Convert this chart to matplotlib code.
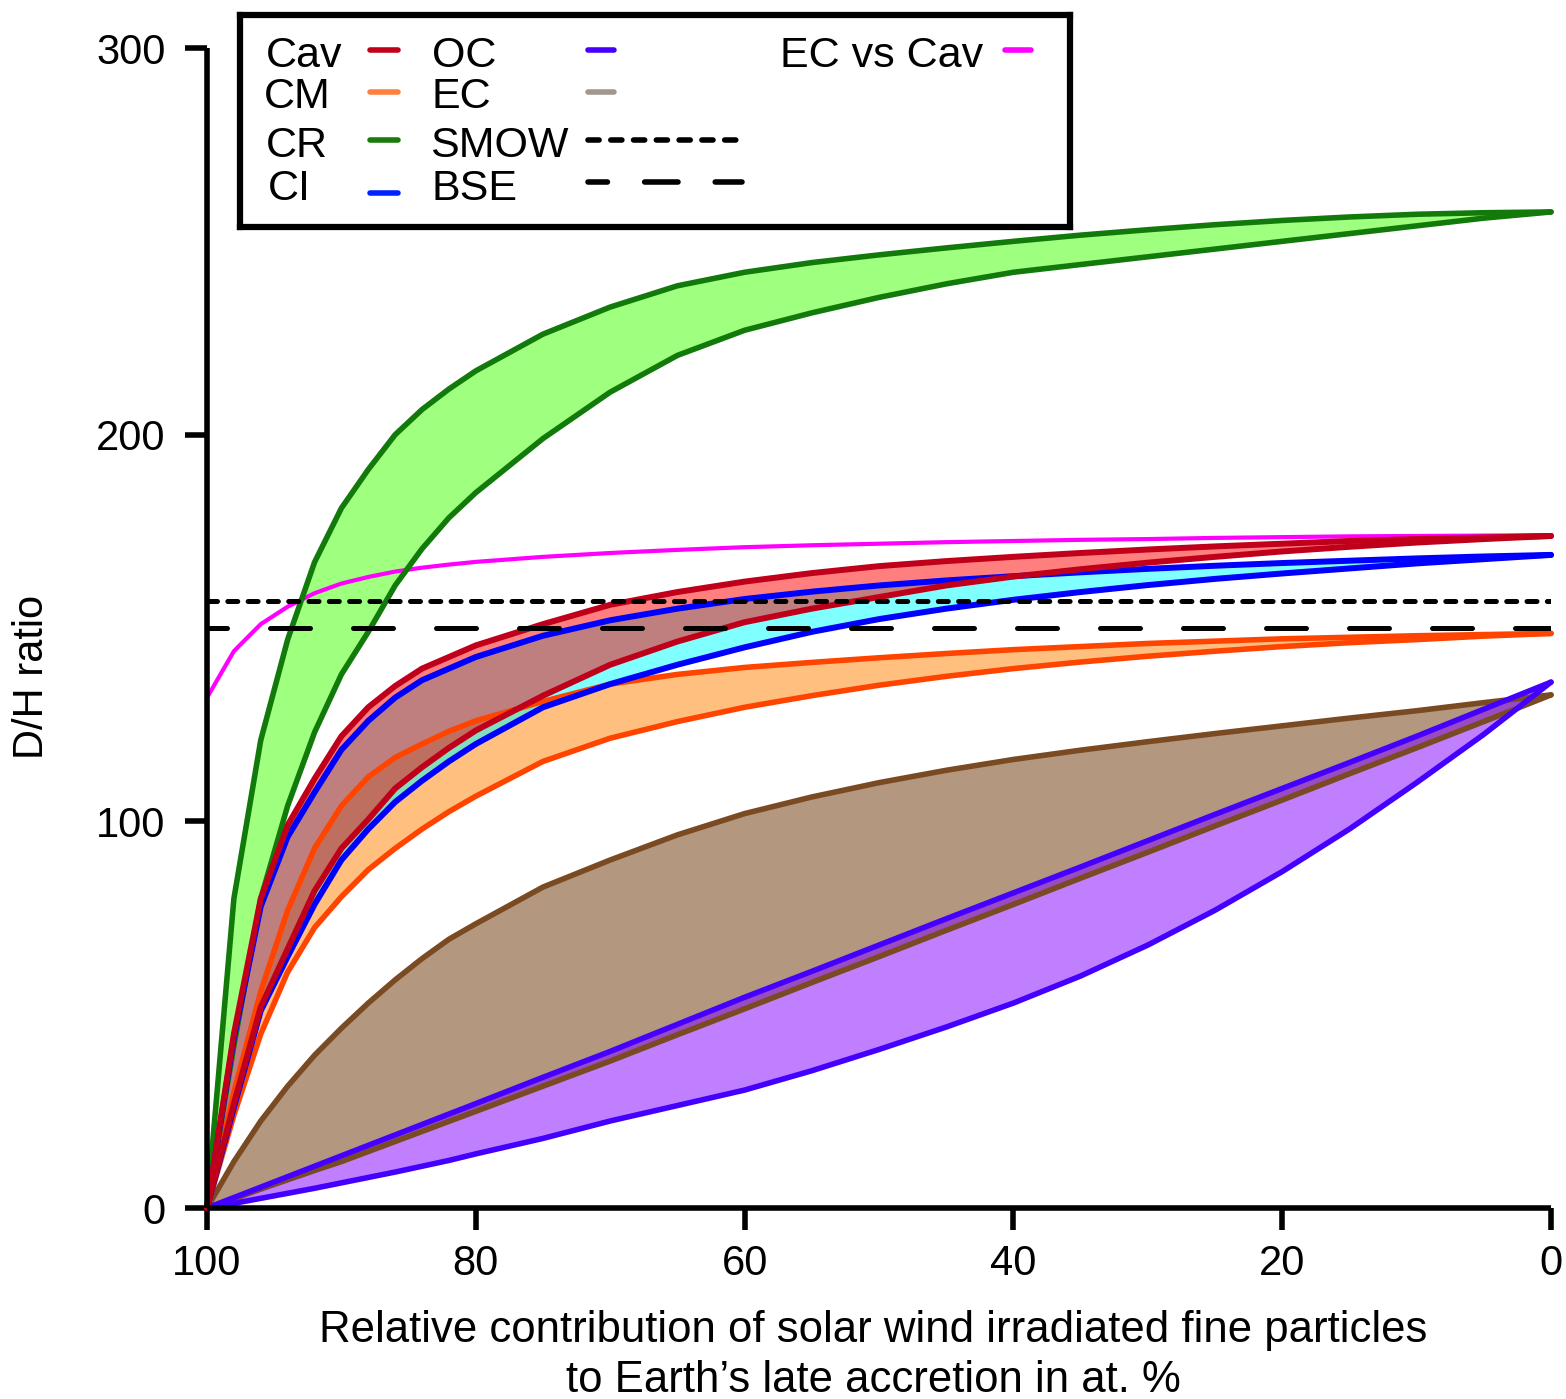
import matplotlib.pyplot as plt

plt.rcParams['font.family'] = ['Liberation Sans', 'DejaVu Sans']

# x axis: % solar wind irradiated fine particles (axis runs 100 -> 0)
x_pct = [100, 98, 96, 94, 92, 90, 88, 86, 84, 82, 80, 75, 70, 65,
         60, 55, 50, 45, 40, 35, 30, 25, 20, 15, 10, 5, 0]

cr_hi = [0, 80, 121, 147, 167, 181, 191, 200, 206.5, 211.8, 216.5, 226, 233, 238.5,
         242, 244.5, 246.5, 248.3, 250, 251.6, 253, 254.3, 255.4, 256.3, 257, 257.4, 257.6]
cr_lo = [0, 42, 80, 104, 123, 138, 149, 161, 170.5, 178.5, 185, 199, 211, 220.5,
         227, 231.5, 235.5, 239, 242, 244, 246, 248, 250, 252, 254, 256, 257.6]

cav_hi = [0, 45, 80, 99, 111, 122, 129.5, 135, 139.5, 142.5, 145.5, 151, 156, 159.3,
          162, 164.2, 166, 167.3, 168.4, 169.4, 170.3, 171.1, 171.8, 172.5, 173, 173.4, 173.8]
cav_lo = [0, 27, 52, 67, 82, 93, 100.5, 108.5, 114, 119, 123.5, 132.5, 140.5, 146.5,
          151.5, 155, 158, 161, 163.3, 165.2, 166.9, 168.4, 169.8, 171, 172.1, 173, 173.8]

ci_hi = [0, 44, 78, 96, 107.5, 118.5, 126, 132, 136.5, 139.5, 142.5, 148, 152, 155,
         157.5, 159.4, 161, 162.3, 163.4, 164.4, 165.3, 166.1, 166.8, 167.4, 168, 168.5, 168.9]
ci_lo = [0, 26, 51, 65, 78.5, 90, 98, 105, 110.5, 115.5, 120, 129.5, 135.5, 140.5,
         145, 149, 152.3, 155, 157.3, 159.3, 161.1, 162.7, 164.1, 165.4, 166.7, 167.8, 168.9]

cm_hi = [0, 30, 56, 77, 93, 104, 111.5, 116.5, 120, 123.3, 126, 131, 135.5, 138,
         139.8, 141.1, 142.3, 143.4, 144.4, 145.2, 146, 146.6, 147.2, 147.6, 148, 148.3, 148.6]
cm_lo = [0, 24, 45, 61, 72.5, 80.5, 87.5, 93, 98, 102.5, 106.5, 115.5, 121.5, 125.8,
         129.5, 132.5, 135.2, 137.5, 139.5, 141.2, 142.7, 144, 145.2, 146.2, 147, 147.9, 148.6]

ec_hi = [0, 12, 22.5, 31.5, 39.5, 46.5, 53, 59, 64.5, 69.5, 73.5, 83, 90, 96.5,
         102, 106.3, 110, 113.2, 116, 118.4, 120.6, 122.7, 124.7, 126.7, 128.6, 130.7, 132.7]
ec_lo = [0, 2.4, 4.9, 7.3, 9.7, 12, 14.6, 17.2, 19.8, 22.4, 25, 31.5, 38, 44.8,
         51.5, 58.3, 65, 71.8, 78.5, 85.3, 92, 98.8, 105.5, 112.3, 119, 125.8, 132.7]

oc_hi = [0, 2.7, 5.4, 8.1, 10.8, 13.5, 16.2, 18.9, 21.6, 24.3, 27, 33.8, 40.5, 47.5,
         54.5, 61.2, 68, 74.8, 81.5, 88.2, 95, 101.8, 108.5, 115.2, 122, 129, 136]
oc_lo = [0, 1.2, 2.5, 3.8, 5.1, 6.5, 7.9, 9.3, 10.8, 12.3, 14, 18, 22.5, 26.5,
         30.5, 35.5, 41, 46.8, 53, 60, 68, 77, 87, 98, 110, 122.5, 136]

ec_vs_cav = [132, 144, 151, 155.5, 159, 161.5, 163.2, 164.6, 165.6, 166.4, 167.1, 168.4, 169.4, 170.2,
             170.9, 171.4, 171.8, 172.2, 172.5, 172.8, 173, 173.3, 173.5, 173.7, 173.8, 173.9, 174]

smow = 157
bse = 150

W, H = 1566, 1399
fig = plt.figure(figsize=(W / 100, H / 100), dpi=100)
ax = fig.add_axes([207 / W, 1 - 1208 / H, 1344 / W, 1160 / H])

line_kw = dict(solid_capstyle='round', solid_joinstyle='round', clip_on=False)

# magenta mixing line
ax.plot(x_pct, ec_vs_cav, color='#ff00ff', lw=3.0, **line_kw)

# CM band
ax.fill_between(x_pct, cm_lo, cm_hi, color='#ff8000', alpha=0.5, lw=0)
ax.plot(x_pct, cm_hi, color='#ff4400', lw=4.0, **line_kw)
ax.plot(x_pct, cm_lo, color='#ff4400', lw=4.0, **line_kw)

# EC band
ax.fill_between(x_pct, ec_lo, ec_hi, color='#6b3101', alpha=0.5, lw=0)
ax.plot(x_pct, ec_hi, color='#7a4a22', lw=4.0, **line_kw)
ax.plot(x_pct, ec_lo, color='#7a4a22', lw=4.0, **line_kw)

# OC band
ax.fill_between(x_pct, oc_lo, oc_hi, color='#8000ff', alpha=0.5, lw=0)
ax.plot(x_pct, oc_hi, color='#4400ff', lw=4.0, **line_kw)
ax.plot(x_pct, oc_lo, color='#4400ff', lw=4.0, **line_kw)

# CR band
ax.fill_between(x_pct, cr_lo, cr_hi, color='#40ff00', alpha=0.5, lw=0)

# CI and Cav fills
ax.fill_between(x_pct, ci_lo, ci_hi, color='#00ffff', alpha=0.5, lw=0)
ax.fill_between(x_pct, cav_lo, cav_hi, color='#ff0000', alpha=0.5, lw=0)

ax.plot(x_pct, cr_hi, color='#127a0a', lw=4.0, **line_kw)
ax.plot(x_pct, cr_lo, color='#127a0a', lw=4.0, **line_kw)
ax.plot(x_pct, ci_hi, color='#0000ff', lw=4.3, **line_kw)
ax.plot(x_pct, ci_lo, color='#0000ff', lw=4.3, **line_kw)
ax.plot(x_pct, cav_hi, color='#c0001a', lw=4.3, **line_kw)
ax.plot(x_pct, cav_lo, color='#c0001a', lw=4.3, **line_kw)

# reference values
ax.axhline(smow, color='black', lw=3.6, linestyle=(0, (2, 2.06)), dash_capstyle='round')
ax.axhline(bse, color='black', lw=3.6, linestyle=(4, (8, 8.6)), dash_capstyle='round')

ax.set_xlim(100, 0)
ax.set_ylim(0, 300)
ax.set_xticks([100, 80, 60, 40, 20, 0])
ax.set_yticks([0, 100, 200, 300])
for s in ['top', 'right']:
    ax.spines[s].set_visible(False)
for s in ['left', 'bottom']:
    ax.spines[s].set_linewidth(4)
    ax.spines[s].set_capstyle('butt')
ax.tick_params(direction='out', length=16, width=4, labelsize=30)
ax.tick_params(axis='y', pad=14)
ax.tick_params(axis='x', pad=10)

fig.text(32 / W, 1 - 677 / H, 'D/H ratio', rotation=90, fontsize=30,
         ha='center', va='center')
fig.text(873 / W, 1 - 1342 / H,
         'Relative contribution of solar wind irradiated fine particles',
         fontsize=31.5, ha='center', va='baseline')
fig.text(873 / W, 1 - 1392 / H, 'to Earth\u2019s late accretion in at. %',
         fontsize=31.5, ha='center', va='baseline')

# legend box, drawn in figure pixel coordinates
lg = fig.add_axes([240 / W, 1 - 227 / H, 830 / W, 212 / H])
lg.set_xlim(240, 1070)
lg.set_ylim(227, 15)
lg.set_xticks([])
lg.set_yticks([])
for s in lg.spines.values():
    s.set_linewidth(4.5)

leg_labels = ['Cav', 'CM', 'CR', 'CI', 'OC', 'EC', 'SMOW', 'BSE', 'EC vs Cav']
leg_colors = ['#c0001a', '#ff7f3f', '#1a7a0a', '#0022ff', '#4400ff', '#a09890',
              'black', 'black', '#ff00ff']
leg_styles = ['-', '-', '-', '-', '-', '-', (0, (2, 2.1)), (2.5, (6, 6.7)), '-']
text_xy = [(266, 67), (264, 108), (266, 157), (268, 200),
           (432, 67), (432, 108), (430, 157), (432, 200), (780, 67)]
handle_xy = [(370, 398, 50), (370, 398, 92), (370, 398, 140), (370, 398, 193),
             (588, 614, 50), (588, 614, 92), (588, 742, 140), (588, 742, 182),
             (1005, 1031, 50)]
for lab, col, sty, (tx, ty), (h0, h1, hy) in zip(leg_labels, leg_colors, leg_styles,
                                                 text_xy, handle_xy):
    lg.text(tx, ty, lab, fontsize=31, ha='left', va='baseline')
    lg.plot([h0, h1], [hy, hy], color=col, lw=4.0, linestyle=sty,
            solid_capstyle='round', dash_capstyle='round')

fig.savefig('out.png', dpi=100)
